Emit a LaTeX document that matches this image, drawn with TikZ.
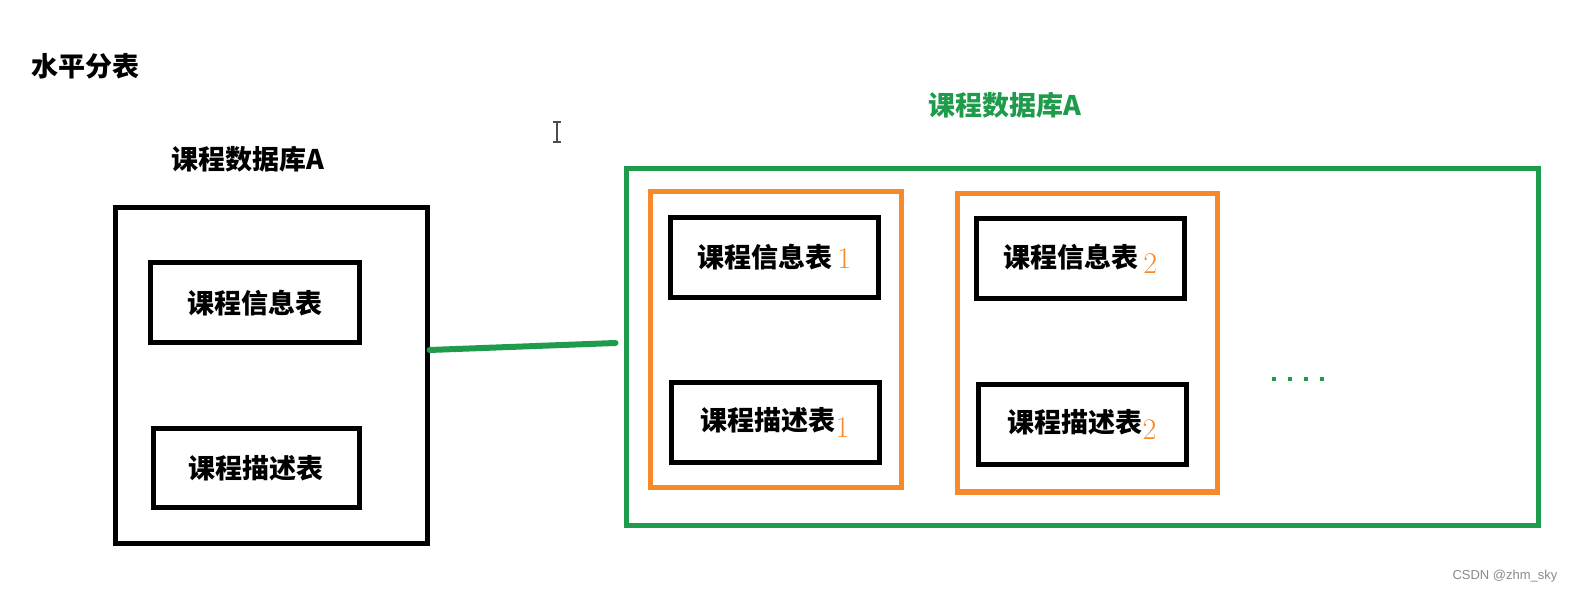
\documentclass[tikz,border=0pt]{standalone}
\usepackage{fontspec}
\newfontfamily\cjk{Noto Sans CJK SC}
\setsansfont{Liberation Sans}
\definecolor{dbgreen}{HTML}{1E9B4B}
\definecolor{shardorange}{HTML}{F8892A}
\definecolor{markgray}{HTML}{8A8A8A}
\usetikzlibrary{positioning,calc}
\newcommand{\shardno}[2]{\raisebox{-#2pt}{\textcolor{shardorange}{\normalfont\fontsize{30}{30}\selectfont #1}}}

\begin{document}
\begin{tikzpicture}[x=1pt,y=-1pt,
  cjklabel/.style={font=\cjk\bfseries\fontsize{27}{30}\selectfont,inner sep=0pt},
  dbbox/.style={draw,line width=5pt,inner sep=0pt},
  shardbox/.style={draw=shardorange,line width=5pt,inner sep=0pt},
  tablebox/.style={cjklabel,draw=black,line width=5pt,minimum width=208,minimum height=80}]
\useasboundingbox (0,0) rectangle (1575,593);
% titles
\node[cjklabel] (title) at (85,66) {水平分表};
\node[cjklabel] (labelL) at (248,159) {课程数据库A};
\node[cjklabel,text=dbgreen] (labelR) at (1005,105) {课程数据库A};
% left database
\node[dbbox,minimum width=312,minimum height=335] (dbL) at (271,375.5) {};
\node[tablebox,minimum width=209] (infoL) at (255,303) {课程信息表};
\node[tablebox,minimum width=206,minimum height=78] (descL) at (256,468) {课程描述表};
% right database
\node[dbbox,draw=dbgreen,minimum width=912,minimum height=356] (dbR) at (1082,347) {};
\node[shardbox,minimum width=251,minimum height=296] (shardA) at (775.5,340) {};
\node[shardbox,minimum width=260,minimum height=298] (shardB) at (1087,343) {};
\node[tablebox] (infoA) at (774.5,257.5) {课程信息表\,\shardno{1}{1}};
\node[tablebox] (descA) at (775,422.5) {课程描述表\shardno{1}{7}};
\node[tablebox] (infoB) at (1080.5,259) {课程信息表\,\shardno{2}{6}};
\node[tablebox] (descB) at (1082,424.5) {课程描述表\shardno{2}{7}};
% split link
\draw[dbgreen,line width=6pt,line cap=round] ([yshift=25.5]dbL.east) -- ([xshift=-8,yshift=4]dbR.west);
\foreach \x in {1274,1290,1306,1322}
  \fill[dbgreen] (\x-2,377) rectangle (\x+2,381);
% cursor
\draw[line width=1.2pt,black!70] (557,122) -- (557,142) (553,122) -- (561,122) (553,142) -- (561,142);
\node[font=\sffamily\fontsize{13}{15}\selectfont,text=markgray] (mark) at (1505,576) {CSDN @zhm\_sky};
\end{tikzpicture}
\end{document}
